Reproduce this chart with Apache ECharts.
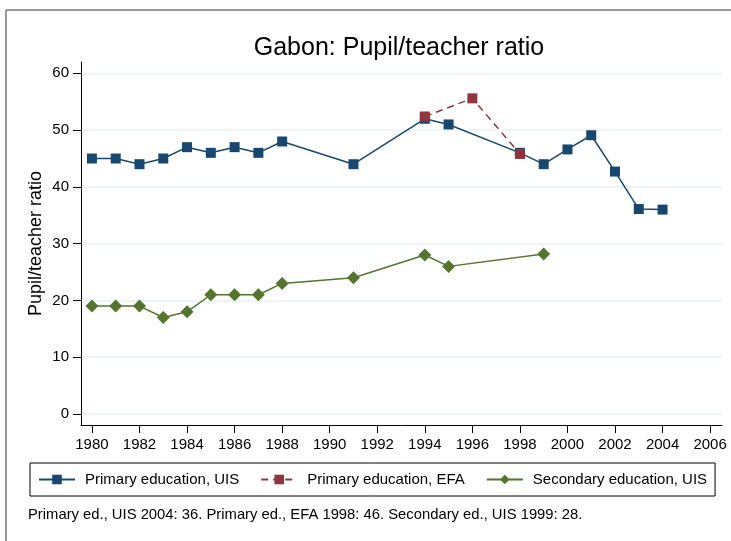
<!DOCTYPE html>
<html>
<head>
<meta charset="utf-8">
<script src="https://cdn.jsdelivr.net/npm/echarts@6/dist/echarts.min.js"></script>
<style>
  html, body { margin: 0; padding: 0; background: #fff; }
  #chart { width: 731px; height: 541px; }
</style>
</head>
<body>
<div id="chart"></div>
<script>
  // data
  var primUisYears = [1980, 1981, 1982, 1983, 1984, 1985, 1986, 1987, 1988, 1991, 1994, 1995, 1998, 1999, 2000, 2001, 2002, 2003, 2004];
  var primUisVals  = [45, 45, 44, 45, 47, 46, 47, 46, 48, 44, 52, 51, 46, 44, 46.6, 49.1, 42.7, 36.1, 36];
  var primEfaYears = [1994, 1996, 1998];
  var primEfaVals  = [52.4, 55.6, 45.8];
  var secUisYears  = [1980, 1981, 1982, 1983, 1984, 1985, 1986, 1987, 1988, 1991, 1994, 1995, 1999];
  var secUisVals   = [19, 19, 19, 17, 18, 21, 21, 21, 23, 24, 28, 26, 28.2];
  var xTicks = [1980, 1982, 1984, 1986, 1988, 1990, 1992, 1994, 1996, 1998, 2000, 2002, 2004, 2006];
  var yTicks = [0, 10, 20, 30, 40, 50, 60];

  function pairs(xs, ys) {
    var out = [];
    for (var i = 0; i < xs.length; i++) out.push([xs[i], ys[i]]);
    return out;
  }

  var font = 'Liberation Sans, Arial, sans-serif';
  var chart = echarts.init(document.getElementById('chart'), null, { renderer: 'canvas' });

  chart.setOption({
    animation: false,
    backgroundColor: '#fff',
    textStyle: { fontFamily: font },
    title: {
      text: 'Gabon: Pupil/teacher ratio',
      left: 394, top: 31, textAlign: 'center',
      textStyle: { fontFamily: font, fontSize: 25, fontWeight: 'normal', color: '#000' }
    },
    graphic: [
      { type: 'rect', shape: { x: 6, y: 10, width: 800, height: 600 }, style: { fill: 'none', stroke: '#333', lineWidth: 1 }, z: -1 },
      { type: 'text', left: 28, top: 507, style: { text: 'Primary ed., UIS 2004: 36. Primary ed., EFA 1998: 46. Secondary ed., UIS 1999: 28.', font: '14.8px ' + font, fill: '#000' } }
    ],
    legend: {
      left: 30, top: 463,
      padding: [9, 8, 9, 8],
      borderColor: '#000', borderWidth: 1,
      itemWidth: 36, itemHeight: 12, itemGap: 21,
      textStyle: { fontFamily: font, fontSize: 15, color: '#000', padding: [0, 0, 0, 5] },
      data: ['Primary education, UIS', 'Primary education, EFA', 'Secondary education, UIS']
    },
    grid: { left: 81, right: 9, top: 62, bottom: 116 },
    xAxis: {
      type: 'value', min: 1979.54, max: 2006.5,
      axisLine: { onZero: false, lineStyle: { color: '#000', width: 1 } },
      axisTick: { customValues: xTicks, length: 8, lineStyle: { color: '#000' } },
      axisLabel: { customValues: xTicks, color: '#000', fontSize: 15, margin: 12, formatter: function (v) { return String(v); } },
      splitLine: { show: false }
    },
    yAxis: {
      type: 'value', min: -1.94, max: 62,
      axisLine: { show: true, onZero: false, lineStyle: { color: '#000', width: 1 } },
      axisTick: { show: true, customValues: yTicks, length: 8, lineStyle: { color: '#000' } },
      axisLabel: { customValues: yTicks, color: '#000', fontSize: 15, margin: 12 },
      splitLine: { show: true, lineStyle: { color: '#eaf2f3', width: 1.5 } },
      name: 'Pupil/teacher ratio', nameLocation: 'middle', nameGap: 36, nameMoveOverlap: false,
      nameTextStyle: { fontFamily: font, fontSize: 18, color: '#000' }
    },
    series: [
      {
        name: 'Primary education, UIS', type: 'line', data: pairs(primUisYears, primUisVals),
        symbol: 'rect', symbolSize: 10, color: '#1a476f',
        lineStyle: { width: 1.5, color: '#1a476f' }, itemStyle: { color: '#1a476f' }
      },
      {
        name: 'Primary education, EFA', type: 'line', data: pairs(primEfaYears, primEfaVals),
        symbol: 'rect', symbolSize: 10, color: '#90353b', z: 3,
        lineStyle: { width: 1.5, color: '#90353b', type: [7, 5] }, itemStyle: { color: '#90353b' }
      },
      {
        name: 'Secondary education, UIS', type: 'line', data: pairs(secUisYears, secUisVals),
        symbol: 'diamond', symbolSize: 13, color: '#55752f',
        lineStyle: { width: 1.5, color: '#55752f' }, itemStyle: { color: '#55752f' }
      }
    ]
  });
</script>
</body>
</html>
